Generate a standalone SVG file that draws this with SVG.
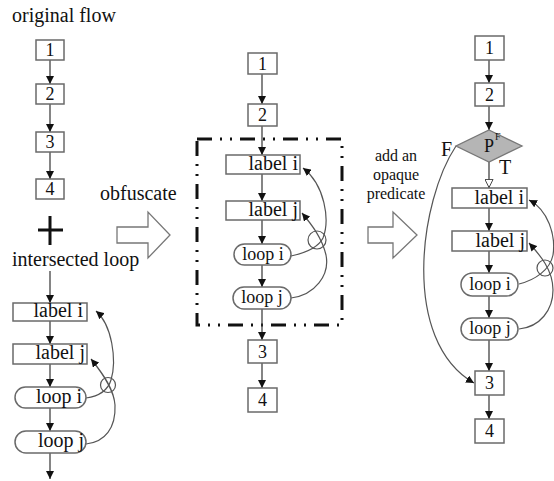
<svg xmlns="http://www.w3.org/2000/svg" width="554" height="481" viewBox="0 0 554 481" font-family="Liberation Serif, Times New Roman, serif">
<defs>
<style>
text{font-family:'Liberation Serif','Times New Roman',Times,serif;fill:#111}
.t{font-size:20px}
.d{font-size:18px;text-anchor:middle}
.l{font-size:20px;text-anchor:end}
.s{font-size:16px;text-anchor:middle}
.box{fill:#fff;stroke:#6a6a6a;stroke-width:1.5}
.ln{fill:none;stroke:#333;stroke-width:1.2;marker-end:url(#ah)}
.cv{fill:none;stroke:#555;stroke-width:1.2;marker-end:url(#ah)}
.blk{fill:#fff;stroke:#777;stroke-width:1.3}
.cir{fill:none;stroke:#555;stroke-width:1.2}
</style>
<marker id="ah" viewBox="0 0 10 10" refX="10" refY="5" markerWidth="8" markerHeight="8" markerUnits="userSpaceOnUse" orient="auto"><path d="M0,0 L10,5 L0,10 z" fill="#111"/></marker>
<marker id="ho" viewBox="0 0 10 10" refX="10" refY="5" markerWidth="9" markerHeight="9" markerUnits="userSpaceOnUse" orient="auto"><path d="M0.5,0.5 L9.5,5 L0.5,9.5 z" fill="#fff" stroke="#333" stroke-width="1"/></marker>
</defs>

<text class="t" x="12" y="22">original flow</text>
<text class="t" x="100" y="200">obfuscate</text>
<text class="t" x="12" y="266">intersected loop</text>
<text class="s" x="396" y="161">add an</text>
<text class="s" x="396" y="180">opaque</text>
<text class="s" x="396" y="199">predicate</text>
<path d="M50,216 V245 M38,230 H63" stroke="#111" stroke-width="3" fill="none"/>

<polygon class="blk" points="117,227 148,227 148,212 170,235 148,258 148,243 117,243"/>
<polygon class="blk" points="368,227 393,227 393,212 417,235 393,258 393,243 368,243"/>

<rect x="197" y="139" width="145" height="186" fill="none" stroke="#111" stroke-width="3" stroke-dasharray="15 8 2 8 2 8"/>

<g id="connectors">
<line class="ln" x1="50" y1="60" x2="50" y2="84"/>
<line class="ln" x1="50" y1="104" x2="50" y2="132"/>
<line class="ln" x1="50" y1="152" x2="50" y2="179"/>
<line class="ln" x1="50" y1="271" x2="50" y2="303"/>
<line class="ln" x1="50" y1="321" x2="50" y2="344"/>
<line class="ln" x1="50" y1="364" x2="50" y2="387"/>
<line class="ln" x1="50" y1="408" x2="50" y2="431"/>
<line class="ln" x1="50" y1="453" x2="50" y2="479"/>
<path class="cv" d="M86,398 C100,396 108,390 111,380 C117,360 112,325 96,311"/>
<path class="cv" d="M86,444 C105,442 116,428 115,405 C114,390 104,375 91,359"/>

<line class="ln" x1="262" y1="74" x2="262" y2="104"/>
<line class="ln" x1="262" y1="126" x2="262" y2="155"/>
<line class="ln" x1="262" y1="174" x2="262" y2="201"/>
<line class="ln" x1="262" y1="220" x2="262" y2="244"/>
<line class="ln" x1="262" y1="265" x2="262" y2="287"/>
<line class="ln" x1="262" y1="309" x2="262" y2="340"/>
<line class="ln" x1="262" y1="363" x2="262" y2="388"/>
<path class="cv" d="M291,256 C305,253 318,248 323,238 C330,220 325,185 303,168"/>
<path class="cv" d="M291,298 C315,295 330,275 326,255 C322,238 312,225 302,213"/>

<line class="ln" x1="489" y1="60" x2="489" y2="83"/>
<line class="ln" x1="489" y1="106" x2="489" y2="130"/>
<line x1="489" y1="162" x2="489" y2="188" stroke="#333" stroke-width="1.2" marker-end="url(#ho)"/>
<line class="ln" x1="489" y1="208" x2="489" y2="231"/>
<line class="ln" x1="489" y1="251" x2="489" y2="273"/>
<line class="ln" x1="489" y1="296" x2="489" y2="318"/>
<line class="ln" x1="489" y1="340" x2="489" y2="371"/>
<line class="ln" x1="489" y1="395" x2="489" y2="419"/>
<path class="cv" d="M456,146 C420,200 400,340 474,383"/>
<path class="cv" d="M519,284 C535,280 550,270 553,255 C556,235 548,210 529,200"/>
<path class="cv" d="M519,329 C540,327 553,310 553,290 C553,270 540,255 529,243"/>
</g>

<circle class="cir" cx="108" cy="385" r="7.5"/>
<circle class="cir" cx="317" cy="240" r="9"/>
<circle class="cir" cx="545" cy="268" r="8"/>

<g id="L1"><rect class="box" x="36" y="40" width="28" height="20"/><text class="d" x="50" y="56">1</text></g>
<g id="L2"><rect class="box" x="36" y="84" width="28" height="20"/><text class="d" x="50" y="100">2</text></g>
<g id="L3"><rect class="box" x="36" y="132" width="28" height="20"/><text class="d" x="50" y="148">3</text></g>
<g id="L4"><rect class="box" x="36" y="179" width="28" height="20"/><text class="d" x="50" y="195">4</text></g>
<g id="Llabeli"><rect class="box" x="13" y="303" width="74" height="18"/><text class="l" x="83" y="317">label i</text></g>
<g id="Llabelj"><rect class="box" x="13" y="344" width="74" height="20"/><text class="l" x="85" y="359">label j</text></g>
<g id="Lloopi"><rect class="box" x="15" y="387" width="71" height="21" rx="10.5"/><text class="l" x="82" y="403">loop i</text></g>
<g id="Lloopj"><rect class="box" x="15" y="431" width="71" height="22" rx="11"/><text class="l" x="84" y="447">loop j</text></g>

<g id="M1"><rect class="box" x="248" y="53" width="29" height="21"/><text class="d" x="262.5" y="70">1</text></g>
<g id="M2"><rect class="box" x="248" y="104" width="29" height="22"/><text class="d" x="262.5" y="121">2</text></g>
<g id="Mlabeli"><rect class="box" x="226" y="155" width="74" height="19"/><text class="l" x="298" y="170">label i</text></g>
<g id="Mlabelj"><rect class="box" x="226" y="201" width="74" height="19"/><text class="l" x="298" y="216">label j</text></g>
<g id="Mloopi"><rect class="box" x="234" y="244" width="57" height="21" rx="10.5"/><text class="d" x="263" y="260">loop i</text></g>
<g id="Mloopj"><rect class="box" x="233" y="287" width="58" height="22" rx="11"/><text class="d" x="262" y="303">loop j</text></g>
<g id="M3"><rect class="box" x="248" y="340" width="29" height="23"/><text class="d" x="262.5" y="358">3</text></g>
<g id="M4"><rect class="box" x="248" y="388" width="29" height="24"/><text class="d" x="262.5" y="406">4</text></g>

<g id="R1"><rect class="box" x="475" y="36" width="29" height="24"/><text class="d" x="489.5" y="54">1</text></g>
<g id="R2"><rect class="box" x="475" y="83" width="29" height="23"/><text class="d" x="489.5" y="101">2</text></g>
<g id="RP"><polygon points="489,130 522,146 489,162 456,146" fill="#b5b5b5" stroke="#777" stroke-width="1.3"/><text class="d" x="489" y="152">P</text><text x="495" y="140" style="font-size:10px">F</text></g>
<text class="t" x="441" y="156">F</text>
<text class="t" x="499" y="174">T</text>
<g id="Rlabeli"><rect class="box" x="452" y="188" width="75" height="20"/><text class="l" x="524" y="204">label i</text></g>
<g id="Rlabelj"><rect class="box" x="452" y="231" width="75" height="20"/><text class="l" x="525" y="247">label j</text></g>
<g id="Rloopi"><rect class="box" x="461" y="273" width="57" height="23" rx="11.5"/><text class="d" x="490" y="290">loop i</text></g>
<g id="Rloopj"><rect class="box" x="461" y="318" width="57" height="22" rx="11"/><text class="d" x="490" y="334">loop j</text></g>
<g id="R3"><rect class="box" x="475" y="371" width="29" height="24"/><text class="d" x="489.5" y="389">3</text></g>
<g id="R4"><rect class="box" x="475" y="419" width="29" height="24"/><text class="d" x="489.5" y="437">4</text></g>
</svg>
